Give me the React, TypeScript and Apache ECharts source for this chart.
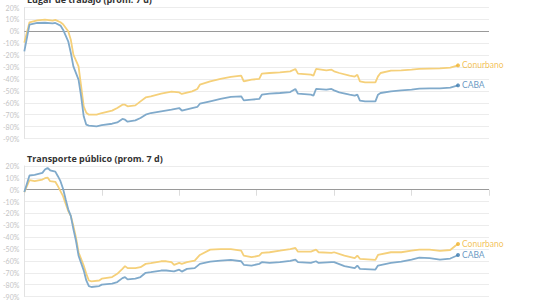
import React, { useEffect, useRef } from "react";
import * as echarts from "echarts";

// Day offsets (x positions, days from start) and values (%) for "Lugar de trabajo"
const workDays = [0, 2, 5, 8, 11, 12, 14, 15, 17, 18, 19, 21, 22, 23, 24, 25, 28, 30, 34, 36, 38, 39, 40, 43, 45, 47, 49, 53, 57, 60, 61, 65, 67, 68, 72, 76, 80, 84, 85, 88, 91, 92, 95, 99, 103, 105, 106, 111, 112, 113, 117, 119, 120, 122, 126, 128, 129, 130, 132, 136, 137, 138, 142, 146, 150, 153, 157, 161, 165, 168];
const workConurbano = [-9.5, 7.6, 9.2, 9.8, 9.0, 9.6, 7.6, 6, 0, -7, -19.6, -29.4, -46, -63, -68.4, -70, -70, -68.6, -66.6, -64.4, -61.6, -61.6, -63, -62.2, -58.8, -55.5, -54.6, -52.4, -50.7, -51.3, -52.6, -50.4, -48.4, -44.8, -42, -40, -38.3, -37.2, -42, -40.6, -40, -35.5, -35, -34.4, -33.6, -31.6, -35.5, -36.4, -37.2, -31.6, -32.8, -32.2, -33.6, -35, -37.2, -38, -36.5, -42, -42.8, -42.8, -37.8, -35, -33, -32.8, -32.2, -31.6, -31.3, -31.1, -30.5, -28.6];
const workCABA = [-16.8, 5.6, 7, 7.2, 6.6, 7, 4.8, 1.4, -8.4, -18, -29.4, -40.6, -54.6, -71.4, -78.4, -79.2, -79.8, -78.7, -77.6, -76.5, -73.6, -74.2, -75.9, -74.8, -72.8, -70, -68.6, -67.2, -65.8, -64.4, -66.5, -64.4, -63.5, -60.8, -58.8, -56.8, -55.1, -54.6, -58, -57.4, -56.8, -53.2, -52.4, -51.8, -51, -48.4, -52.4, -53.2, -54, -48.4, -49, -48.4, -49.6, -51.3, -53.2, -54, -53.2, -58.2, -58.8, -58.8, -53.2, -51.8, -50.4, -49.6, -49, -48.2, -47.9, -47.9, -47.3, -45.4];

// "Transporte público"
const transitDays = [0, 2, 4, 7, 8, 9, 10, 12, 13, 14, 15, 16, 17, 18, 19, 20, 21, 23, 24, 25, 26, 29, 30, 34, 36, 38, 39, 40, 43, 45, 47, 49, 53, 55, 57, 58, 60, 61, 63, 66, 68, 72, 76, 80, 84, 85, 88, 91, 92, 95, 99, 103, 105, 106, 111, 113, 114, 119, 120, 124, 128, 129, 130, 136, 137, 142, 146, 150, 153, 157, 161, 165, 167, 168];
const transitConurbano = [-2, 8, 7.2, 8.6, 9.7, 10.3, 7.2, 6.7, 3, -1.2, -5.4, -11.7, -17.9, -22, -30.5, -40.2, -52.7, -63.9, -70.9, -76.5, -77.3, -76.5, -75, -73.6, -70.9, -66.7, -64.4, -66.1, -66.1, -65.3, -62.5, -61.9, -60.3, -60.3, -61.1, -63.3, -61.7, -62.5, -61.1, -59.8, -55, -50.5, -50, -50, -51.4, -55.6, -56.9, -55.6, -53.3, -52.7, -51.4, -50, -49.1, -52.2, -52.2, -50.5, -52.7, -53.3, -52.7, -55.6, -57.7, -55.6, -58.2, -59.2, -55, -52.7, -52.7, -51.4, -50.5, -50.5, -51.6, -50.8, -47.2, -45.8];
const transitCABA = [-2, 12, 12.5, 14.2, 17, 18.4, 16.4, 15.3, 11.4, 7.2, 0.8, -8.1, -16.5, -22, -33.2, -43, -55.6, -68, -76.5, -81.2, -82, -81.2, -80, -79.2, -77.8, -74.5, -73.6, -75.6, -75, -73.6, -70, -69.5, -68.1, -68.1, -68.6, -68.9, -67.4, -69, -66.7, -66.1, -62.5, -60.6, -59.7, -59.2, -60.3, -63.3, -63.9, -62.5, -61.1, -61.7, -61.1, -60, -58.9, -61.1, -61.7, -60.3, -61.7, -61.1, -61.1, -64.4, -66.1, -63.9, -66.7, -67.3, -63.9, -61.7, -60.6, -58.9, -57.2, -57.7, -58.9, -58, -56.1, -55];

const panelTitles = ["Lugar de trabajo (prom. 7 d)", "Transporte público (prom. 7 d)"];
const seriesNames = ["Conurbano", "CABA"];
const yTicks = { min: -90, max: 20, step: 10 };
const xTicks = { min: 0, max: 180, step: 30 };

const LINE_COLORS = ["#f5d07a", "#80aacb"];
const DOT_COLORS = ["#f0b32e", "#3f7db2"];
const FONT = "Lato, 'Noto Sans', sans-serif";
const TITLE_FONT = "'Liberation Sans Narrow', 'Open Sans', sans-serif";

const zip = (xs: number[], ys: number[]) => xs.map((x, i) => [x, ys[i]]);

export default function App() {
  const ref = useRef<HTMLDivElement>(null);
  useEffect(() => {
    if (!ref.current) return;
    const chart = echarts.init(ref.current, undefined, { renderer: "svg" });
    const panels = [
      { days: workDays, vals: [workConurbano, workCABA] },
      { days: transitDays, vals: [transitConurbano, transitCABA] },
    ];
    const series: any[] = [];
    panels.forEach((p, gi) => {
      p.vals.forEach((v, si) => {
        series.push({
          type: "line",
          name: seriesNames[si] + gi,
          xAxisIndex: gi,
          yAxisIndex: gi,
          data: zip(p.days, v),
          showSymbol: false,
          lineStyle: { color: LINE_COLORS[si], width: 1.8 },
          z: 3 + si,
          markLine:
            si === 0
              ? {
                  silent: true,
                  symbol: "none",
                  label: { show: false },
                  lineStyle: { color: "#9a9a9a", width: 1, type: "solid" },
                  data: [{ yAxis: 0 }],
                  z: 2,
                }
              : undefined,
        });
        const last = p.days.length - 1;
        series.push({
          type: "scatter",
          xAxisIndex: gi,
          yAxisIndex: gi,
          data: [[p.days[last], v[last]]],
          symbolSize: 4,
          itemStyle: { color: DOT_COLORS[si] },
          z: 6,
          label: {
            show: true,
            position: "right",
            distance: 2,
            formatter: seriesNames[si],
            color: DOT_COLORS[si],
            fontSize: 8.5,
            fontFamily: FONT,
          },
        });
      });
    });
    const grids = [
      { left: 23, right: 44, top: 7.5, height: 131 },
      { left: 23, right: 44, top: 166, height: 131.5 },
    ];
    chart.setOption({
      animation: false,
      title: [
        { text: panelTitles[0], left: 22, top: -10 },
        { text: panelTitles[1], left: 22, top: 149 },
      ].map((t) => ({
        ...t,
        textStyle: { fontSize: 9, fontWeight: "bold", color: "#333", fontFamily: TITLE_FONT },
      })),
      grid: grids,
      xAxis: grids.map((_, gi) => ({
        type: "value",
        gridIndex: gi,
        min: xTicks.min,
        max: xTicks.max,
        interval: xTicks.step,
        axisLabel: { show: false },
        axisLine: { show: false },
        axisTick: { show: gi === 1, length: 6, lineStyle: { color: "#dcdcdc" } },
        splitLine: { show: false },
      })),
      yAxis: grids.map((_, gi) => ({
        type: "value",
        gridIndex: gi,
        min: yTicks.min,
        max: yTicks.max,
        interval: yTicks.step,
        axisLabel: {
          formatter: "{value}%",
          color: "#c4c4c4",
          fontSize: 7,
          fontFamily: FONT,
          margin: 5,
        },
        axisLine: { show: true, lineStyle: { color: "#e2e2e2" } },
        axisTick: { show: false },
        splitLine: { show: true, lineStyle: { color: "#ececec", width: 1 } },
      })),
      series,
    });
    return () => chart.dispose();
  }, []);
  return (
    <div
      ref={ref}
      style={{ position: "fixed", left: 0, top: 0, width: 533, height: 300, background: "#fff" }}
    />
  );
}
